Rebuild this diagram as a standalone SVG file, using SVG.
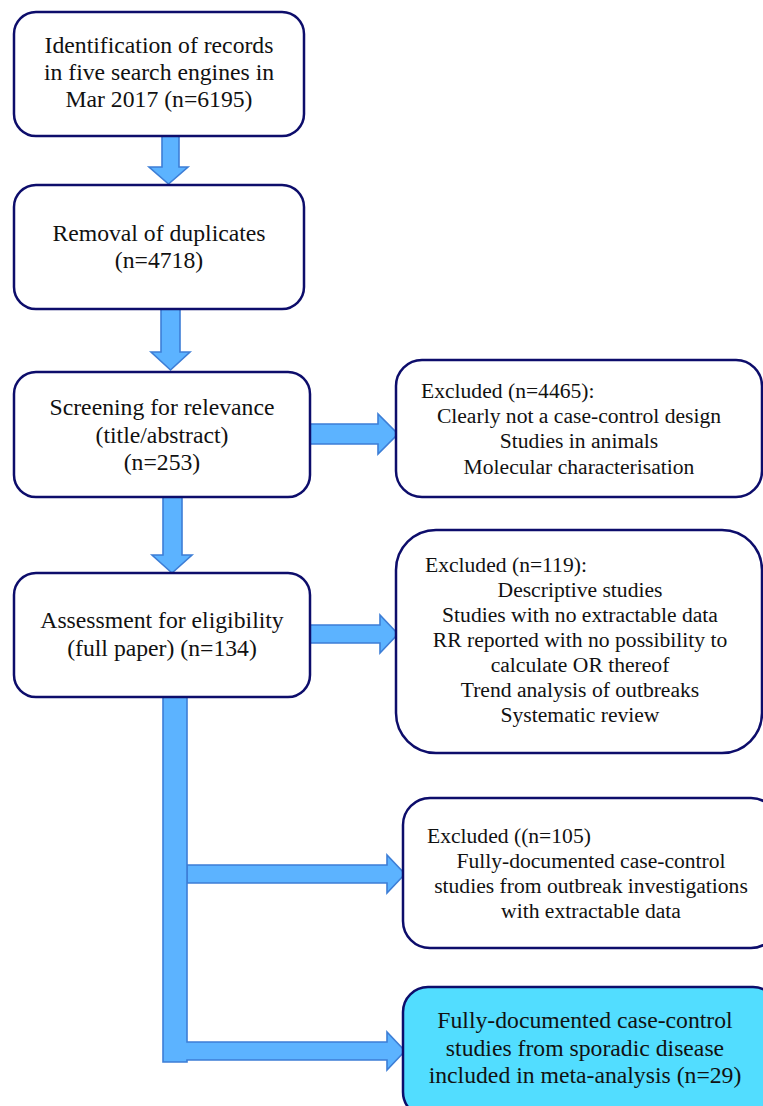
<svg xmlns="http://www.w3.org/2000/svg" width="763" height="1106" viewBox="0 0 763 1106">
<style>
.box{fill:#ffffff;stroke:#0d0d6b;stroke-width:2.5}
.fin{fill:#52ddff;stroke:#0d0d6b;stroke-width:2.5}
.arr{fill:#5cb3ff;stroke:#3d7ed6;stroke-width:1.6;stroke-linejoin:miter}
text{font-family:"Liberation Serif","Times New Roman",serif;fill:#111111}
.m{font-size:23.7px;text-anchor:middle}
.s{font-size:21.6px;text-anchor:middle}
.h{font-size:21.6px;text-anchor:start}
</style>
<rect width="763" height="1106" fill="#ffffff"/>
<g id="connectors">
<path class="arr" d="M162,136 H179 V167 H188 L168.5,184 L149,167 H162 Z"/>
<path class="arr" d="M161,309 H180 V352 H190 L170.5,370 L151,352 H161 Z"/>
<path class="arr" d="M163,497 H182 V555 H192 L172,573 L152,555 H163 Z"/>
<path class="arr" d="M310,424 H378 V414 L398,434 L378,454 V444 H310 Z"/>
<path class="arr" d="M310,625 H380 V615 L398,634 L380,653 V643 H310 Z"/>
<path class="arr" d="M187,865 H387 V855 L405,874 L387,893 V883 H187 Z"/>
<path class="arr" d="M163,697 H187 V1042 H387 V1032 L405,1051 L387,1070 V1060 H187 V1062 H163 Z"/>
</g>
<g id="n1">
<rect class="box" x="14" y="12" width="290" height="124" rx="22"/>
<text class="m" x="159" y="53">Identification of records</text>
<text class="m" x="159" y="80">in five search engines in</text>
<text class="m" x="159" y="107">Mar 2017 (n=6195)</text>
</g>
<g id="n2">
<rect class="box" x="14" y="185" width="290" height="124" rx="22"/>
<text class="m" x="159" y="241">Removal of duplicates</text>
<text class="m" x="159" y="268">(n=4718)</text>
</g>
<g id="n3">
<rect class="box" x="14" y="372" width="296" height="125" rx="22"/>
<text class="m" x="162" y="415">Screening for relevance</text>
<text class="m" x="162" y="443">(title/abstract)</text>
<text class="m" x="162" y="470">(n=253)</text>
</g>
<g id="n4">
<rect class="box" x="14" y="573" width="296" height="124" rx="22"/>
<text class="m" x="162" y="628">Assessment for eligibility</text>
<text class="m" x="162" y="656">(full paper) (n=134)</text>
</g>
<g id="e1">
<rect class="box" x="396" y="360" width="366" height="137" rx="26"/>
<text class="h" x="421" y="398">Excluded (n=4465):</text>
<text class="s" x="579" y="423">Clearly not a case-control design</text>
<text class="s" x="579" y="448">Studies in animals</text>
<text class="s" x="579" y="474">Molecular characterisation</text>
</g>
<g id="e2">
<rect class="box" x="396" y="530" width="366" height="223" rx="40"/>
<text class="h" x="425" y="572">Excluded (n=119):</text>
<text class="s" x="580" y="597">Descriptive studies</text>
<text class="s" x="580" y="622">Studies with no extractable data</text>
<text class="s" x="580" y="647">RR reported with no possibility to</text>
<text class="s" x="580" y="672">calculate OR thereof</text>
<text class="s" x="580" y="697">Trend analysis of outbreaks</text>
<text class="s" x="580" y="722">Systematic review</text>
</g>
<g id="e3">
<rect class="box" x="403" y="798" width="375" height="150" rx="27"/>
<text class="h" x="427" y="843">Excluded ((n=105)</text>
<text class="s" x="591" y="868">Fully-documented case-control</text>
<text class="s" x="591" y="893">studies from outbreak investigations</text>
<text class="s" x="591" y="918">with extractable data</text>
</g>
<g id="final">
<rect class="fin" x="403" y="987" width="375" height="130" rx="25"/>
<text class="m" x="585" y="1028">Fully-documented case-control</text>
<text class="m" x="585" y="1056">studies from sporadic disease</text>
<text class="m" x="585" y="1083">included in meta-analysis (n=29)</text>
</g>
</svg>
